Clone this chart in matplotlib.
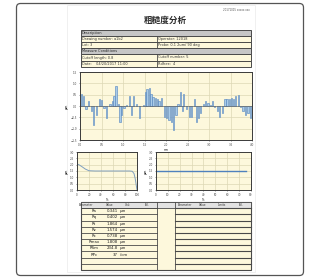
import numpy as np
import matplotlib.pyplot as plt
from matplotlib.patches import FancyBboxPatch, Rectangle

plt.rcParams['font.family'] = ['DejaVu Sans', 'Noto Sans CJK SC']

# Roughness profile (mm, um)
profile_x = [0.04, 0.08, 0.14, 0.19, 0.27, 0.32, 0.39, 0.45, 0.50, 0.56, 0.62, 0.70,
             0.76, 0.79, 0.84, 0.89, 0.93, 0.97, 1.02, 1.08, 1.15, 1.20, 1.25, 1.32,
             1.38, 1.47, 1.52, 1.56, 1.61, 1.65, 1.70, 1.75, 1.80, 1.84, 1.90, 1.97,
             2.01, 2.07, 2.13, 2.17, 2.23, 2.28, 2.33, 2.38, 2.41, 2.48, 2.54, 2.60,
             2.66, 2.71, 2.76, 2.81, 2.88, 2.92, 2.98, 3.03, 3.08, 3.13, 3.19, 3.25,
             3.31, 3.37, 3.42, 3.48, 3.52, 3.57, 3.62, 3.68, 3.73, 3.79, 3.85, 3.91, 3.97]
profile_y = [0.55, 0.45, -0.15, 0.2, -0.2, -0.85, -0.4, 0.3, 0.25, -0.1, -0.55, 0.1,
             0.2, 0.45, 0.9, 0.1, -0.7, -0.4, -0.1, 0.05, 0.45, -0.4, 0.45, 0.1,
             -0.55, 0.05, 0.6, 0.75, 0.8, 0.55, 0.4, 0.35, 0.3, 0.2, 0.35, -0.5,
             -0.55, -0.6, -0.7, -1.05, -0.4, 0.1, 0.6, -0.2, 0.55, -0.15, -0.5, -0.5,
             0.3, -0.7, -0.55, -0.3, 0.1, 0.2, 0.15, 0.05, 0.2, -0.05, -0.2, -0.5,
             -0.3, 0.3, 0.3, 0.3, 0.35, 0.3, 0.45, 0.5, -0.05, -0.2, -0.4, -0.3, -0.55]

# bearing curve (%, um)
abbott_x = [0, 3, 8, 14, 20, 30, 50, 70, 88, 92, 95, 97, 99, 100]
abbott_y = [2.05, 2.0, 1.85, 1.65, 1.52, 1.5, 1.5, 1.5, 1.5, 1.48, 1.3, 0.9, 0.3, 0.0]

right_x = [0, 76]
right_y = [1.5, 1.5]

desc_rows = [("Drawing number: a1b2", "Operator: 12018"),
             ("Lot: 3", "Probe: 0.1 2um/ 90 deg"),
             ("Cutoff length: 0.8", "Cutoff number: 5"),
             ("Date:    04/20/2017 11:00", "Rdfree:  4")]

param_names = ["Ra", "Rq", "Rt", "Rz", "Rc", "Rmax", "RSm", "RPc"]
param_values = ["0.341", "0.402", "1.864", "1.574", "0.738", "1.808", "234.8", "37"]
param_units = ["µm", "µm", "µm", "µm", "µm", "µm", "µm", "/cm"]

W, H = 310, 278
fig = plt.figure(figsize=(W / 100, H / 100), dpi=100)

bg = fig.add_axes([0, 0, 1, 1])
bg.set_xlim(0, W)
bg.set_ylim(H, 0)
bg.axis('off')

yellow = '#fdf8dc'
gray_hdr = '#c6c6c6'
line_c = '#4a4a4a'
fs = 2.5

# outer frame and page
bg.add_patch(FancyBboxPatch((16.5, 3.5), 287, 272, boxstyle="round,pad=0,rounding_size=4",
                            fc='white', ec='#555555', lw=0.9))
bg.add_patch(Rectangle((67, 5), 188, 267, fc='white', ec='#eeeeee', lw=0.6))
bg.text(250, 10, "20171015 xxxxx.xxx", fontsize=1.9, ha='right', va='center', color='#555555')
bg.text(165, 20, "粗糙度分析", fontsize=6.2, fontweight='bold', ha='center', va='center',
        family=['Noto Sans CJK SC'], color='#2a2a2a')

# description table
x0, x1, xm = 80.5, 250.5, 157
rows_y = [30, 36, 42, 48, 54, 61, 67]
kinds = ['h', 'd', 'd', 'h', 'd', 'd']
hdr_text = {0: "Description", 3: "Measure Conditions"}
di = 0
for i, k in enumerate(kinds):
    y0, y1 = rows_y[i], rows_y[i + 1]
    fc = gray_hdr if k == 'h' else yellow
    bg.add_patch(Rectangle((x0, y0), x1 - x0, y1 - y0, fc=fc, ec=line_c, lw=0.7))
    yc = (y0 + y1) / 2
    if k == 'h':
        bg.text(x0 + 1.5, yc, hdr_text[i], fontsize=fs, va='center', color='#222222')
    else:
        bg.plot([xm, xm], [y0, y1], color=line_c, lw=0.6)
        bg.text(x0 + 1.5, yc, desc_rows[di][0], fontsize=fs, va='center', color='#333333')
        bg.text(xm + 1.5, yc, desc_rows[di][1], fontsize=fs, va='center', color='#333333')
        di += 1

# results table
ty0, ty1 = 202, 270
rh = (ty1 - ty0) / 11
xl1, xr0 = 157, 175
bg.add_patch(Rectangle((x0, ty0), x1 - x0, ty1 - ty0, fc=yellow, ec=line_c, lw=0.8))
bg.add_patch(Rectangle((x0, ty0), x1 - x0, rh, fc='#e2e2e2', ec=line_c, lw=0.6))
bg.plot([xl1, xl1], [ty0, ty1], color=line_c, lw=0.6)
bg.plot([xr0, xr0], [ty0, ty1], color=line_c, lw=0.6)
for i in range(1, 11):
    y = ty0 + i * rh
    bg.plot([x0, xl1], [y, y], color=line_c, lw=0.6)
    bg.plot([xr0, x1], [y, y], color=line_c, lw=0.8)
for lbl, xx in zip(["Parameter", "Value", "Unit", "Tol."], [86, 110, 128, 147]):
    bg.text(xx, ty0 + rh / 2, lbl, fontsize=2.0, ha='center', va='center', color='#333333')
for lbl, xx in zip(["Parameter", "Value", "Limits", "Tol."], [185, 203, 222, 241]):
    bg.text(xx, ty0 + rh / 2, lbl, fontsize=2.0, ha='center', va='center', color='#333333')
for i, (n, v, u) in enumerate(zip(param_names, param_values, param_units)):
    yc = ty0 + (i + 1.5) * rh
    bg.text(94, yc, n, fontsize=2.8, ha='center', va='center', color='#222222')
    bg.text(118, yc, v, fontsize=2.8, ha='right', va='center', color='#222222')
    bg.text(120, yc, u, fontsize=2.8, ha='left', va='center', color='#222222')


def rect(px0, py0, px1, py1):
    return [px0 / W, 1 - py1 / H, (px1 - px0) / W, (py1 - py0) / H]


def style(ax):
    ax.set_facecolor(yellow)
    ax.grid(True, color='#dcd7b5', lw=0.5)
    ax.set_axisbelow(True)
    for s in ax.spines.values():
        s.set_color('#3a3a3a')
        s.set_linewidth(0.7)
    ax.tick_params(labelsize=2.0, length=1, width=0.4, pad=1.2, colors='#444444')


# main profile
ax = fig.add_axes(rect(80, 72, 252, 140))
style(ax)
ax.bar(profile_x, profile_y, width=0.03, color='#a9cbe8', edgecolor='#4f81bd', lw=0.4)
ax.axhline(0, color='#555555', lw=0.4)
ax.set_xlim(0, 4)
ax.set_ylim(-1.5, 1.5)
ax.set_xticks(np.arange(0, 4.01, 0.5))
ax.set_yticks(np.arange(-1.5, 1.51, 0.5))
ax.set_xlabel("mm", fontsize=1.9, labelpad=1)
ax.set_ylabel("µm", fontsize=2.4, labelpad=1)

# bearing curve
ax2 = fig.add_axes(rect(77, 152, 137, 190))
style(ax2)
ax2.plot(abbott_x, abbott_y, color='#7f9fbf', lw=0.7)
ax2.set_xlim(0, 100)
ax2.set_ylim(0, 3)
ax2.set_xticks(np.arange(0, 101, 20))
ax2.set_yticks(np.arange(0, 3.01, 0.5))
ax2.set_xlabel("%", fontsize=1.9, labelpad=1)
ax2.set_ylabel("µm", fontsize=2.4, labelpad=1)

# right chart
ax3 = fig.add_axes(rect(156, 152, 251, 190))
style(ax3)
ax3.plot(right_x, right_y, color='#4f81bd', lw=1.0)
ax3.set_xlim(0, 80)
ax3.set_ylim(0, 3)
ax3.set_xticks(np.arange(0, 81, 10))
ax3.set_yticks(np.arange(0, 3.01, 0.5))
ax3.set_xlabel("%", fontsize=1.9, labelpad=1)
ax3.set_ylabel("µm", fontsize=2.4, labelpad=1)

fig.savefig("out.png", dpi=100)
